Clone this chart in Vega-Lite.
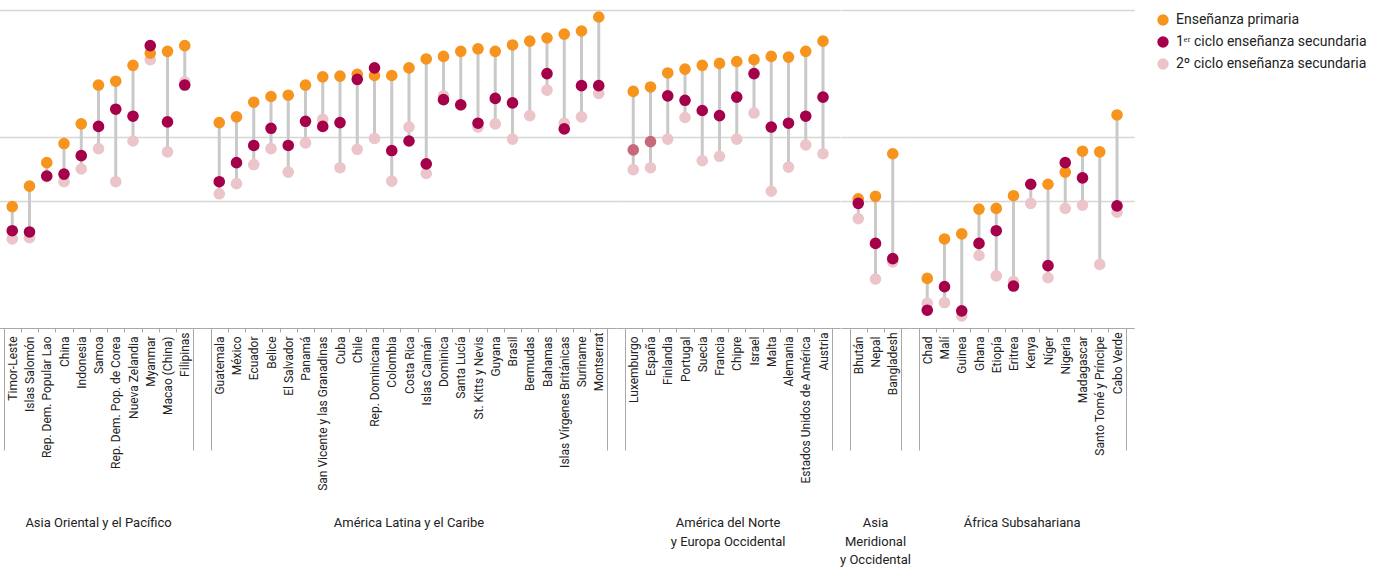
{
  "$schema": "https://vega.github.io/schema/vega-lite/v6.json",
  "padding": {"left": -11, "top": 10, "right": 5, "bottom": 0},
  "background": "white",
  "bounds": "flush",
  "data": {"values": [
    {"region": "Asia Oriental y el Pacífico", "pais": "Timor-Leste", "primaria": 69.1, "ciclo1": 65.3, "ciclo2": 64.0},
    {"region": "Asia Oriental y el Pacífico", "pais": "Islas Salomón", "primaria": 72.3, "ciclo1": 65.1, "ciclo2": 64.2},
    {"region": "Asia Oriental y el Pacífico", "pais": "Rep. Dem. Popular Lao", "primaria": 76.0, "ciclo1": 73.9, "ciclo2": 73.8},
    {"region": "Asia Oriental y el Pacífico", "pais": "China", "primaria": 79.0, "ciclo1": 74.2, "ciclo2": 73.0},
    {"region": "Asia Oriental y el Pacífico", "pais": "Indonesia", "primaria": 82.1, "ciclo1": 77.1, "ciclo2": 75.0},
    {"region": "Asia Oriental y el Pacífico", "pais": "Samoa", "primaria": 88.2, "ciclo1": 81.7, "ciclo2": 78.2},
    {"region": "Asia Oriental y el Pacífico", "pais": "Rep. Dem. Pop. de Corea", "primaria": 88.8, "ciclo1": 84.4, "ciclo2": 73.0},
    {"region": "Asia Oriental y el Pacífico", "pais": "Nueva Zelandia", "primaria": 91.3, "ciclo1": 83.3, "ciclo2": 79.4},
    {"region": "Asia Oriental y el Pacífico", "pais": "Myanmar", "primaria": 93.2, "ciclo1": 94.4, "ciclo2": 92.2},
    {"region": "Asia Oriental y el Pacífico", "pais": "Macao (China)", "primaria": 93.5, "ciclo1": 82.4, "ciclo2": 77.7},
    {"region": "Asia Oriental y el Pacífico", "pais": "Filipinas", "primaria": 94.4, "ciclo1": 88.2, "ciclo2": 88.7},
    {"region": "América Latina y el Caribe", "pais": "Guatemala", "primaria": 82.3, "ciclo1": 73.0, "ciclo2": 71.1},
    {"region": "América Latina y el Caribe", "pais": "México", "primaria": 83.2, "ciclo1": 76.0, "ciclo2": 72.7},
    {"region": "América Latina y el Caribe", "pais": "Ecuador", "primaria": 85.5, "ciclo1": 78.7, "ciclo2": 75.7},
    {"region": "América Latina y el Caribe", "pais": "Belice", "primaria": 86.4, "ciclo1": 81.4, "ciclo2": 78.2},
    {"region": "América Latina y el Caribe", "pais": "El Salvador", "primaria": 86.6, "ciclo1": 78.7, "ciclo2": 74.5},
    {"region": "América Latina y el Caribe", "pais": "Panamá", "primaria": 88.2, "ciclo1": 82.5, "ciclo2": 79.1},
    {"region": "América Latina y el Caribe", "pais": "San Vicente y las Granadinas", "primaria": 89.5, "ciclo1": 81.7, "ciclo2": 82.8},
    {"region": "América Latina y el Caribe", "pais": "Cuba", "primaria": 89.6, "ciclo1": 82.3, "ciclo2": 75.2},
    {"region": "América Latina y el Caribe", "pais": "Chile", "primaria": 89.9, "ciclo1": 89.1, "ciclo2": 78.1},
    {"region": "América Latina y el Caribe", "pais": "Rep. Dominicana", "primaria": 89.7, "ciclo1": 90.9, "ciclo2": 79.8},
    {"region": "América Latina y el Caribe", "pais": "Colombia", "primaria": 89.7, "ciclo1": 77.9, "ciclo2": 73.1},
    {"region": "América Latina y el Caribe", "pais": "Costa Rica", "primaria": 90.9, "ciclo1": 79.4, "ciclo2": 81.6},
    {"region": "América Latina y el Caribe", "pais": "Islas Caimán", "primaria": 92.3, "ciclo1": 75.8, "ciclo2": 74.3},
    {"region": "América Latina y el Caribe", "pais": "Dominica", "primaria": 92.7, "ciclo1": 85.9, "ciclo2": 86.5},
    {"region": "América Latina y el Caribe", "pais": "Santa Lucía", "primaria": 93.5, "ciclo1": 85.1, "ciclo2": 85.0},
    {"region": "América Latina y el Caribe", "pais": "St. Kitts y Nevis", "primaria": 93.9, "ciclo1": 82.2, "ciclo2": 81.6},
    {"region": "América Latina y el Caribe", "pais": "Guyana", "primaria": 93.5, "ciclo1": 86.1, "ciclo2": 82.1},
    {"region": "América Latina y el Caribe", "pais": "Brasil", "primaria": 94.5, "ciclo1": 85.4, "ciclo2": 79.7},
    {"region": "América Latina y el Caribe", "pais": "Bermudas", "primaria": 95.1, "ciclo1": null, "ciclo2": 83.4},
    {"region": "América Latina y el Caribe", "pais": "Bahamas", "primaria": 95.6, "ciclo1": 90.0, "ciclo2": 87.4},
    {"region": "América Latina y el Caribe", "pais": "Islas Vírgenes Británicas", "primaria": 96.2, "ciclo1": 81.3, "ciclo2": 82.2},
    {"region": "América Latina y el Caribe", "pais": "Suriname", "primaria": 96.7, "ciclo1": 88.1, "ciclo2": 83.2},
    {"region": "América Latina y el Caribe", "pais": "Montserrat", "primaria": 98.9, "ciclo1": 88.1, "ciclo2": 86.9},
    {"region": "América del Norte y Europa Occidental", "pais": "Luxemburgo", "primaria": 87.2, "ciclo1": 78.0, "ciclo2": 74.9, "ciclo1_estimado": true},
    {"region": "América del Norte y Europa Occidental", "pais": "España", "primaria": 87.9, "ciclo1": 79.3, "ciclo2": 75.2, "ciclo1_estimado": true},
    {"region": "América del Norte y Europa Occidental", "pais": "Finlandia", "primaria": 90.1, "ciclo1": 86.5, "ciclo2": 79.7},
    {"region": "América del Norte y Europa Occidental", "pais": "Portugal", "primaria": 90.7, "ciclo1": 85.8, "ciclo2": 83.1},
    {"region": "América del Norte y Europa Occidental", "pais": "Suecia", "primaria": 91.3, "ciclo1": 84.2, "ciclo2": 76.3},
    {"region": "América del Norte y Europa Occidental", "pais": "Francia", "primaria": 91.6, "ciclo1": 83.4, "ciclo2": 77.0},
    {"region": "América del Norte y Europa Occidental", "pais": "Chipre", "primaria": 91.9, "ciclo1": 86.3, "ciclo2": 79.7},
    {"region": "América del Norte y Europa Occidental", "pais": "Israel", "primaria": 92.2, "ciclo1": 90.0, "ciclo2": 83.8},
    {"region": "América del Norte y Europa Occidental", "pais": "Malta", "primaria": 92.7, "ciclo1": 81.6, "ciclo2": 71.5},
    {"region": "América del Norte y Europa Occidental", "pais": "Alemania", "primaria": 92.6, "ciclo1": 82.2, "ciclo2": 75.3},
    {"region": "América del Norte y Europa Occidental", "pais": "Estados Unidos de América", "primaria": 93.5, "ciclo1": 83.3, "ciclo2": 78.8},
    {"region": "América del Norte y Europa Occidental", "pais": "Austria", "primaria": 95.1, "ciclo1": 86.3, "ciclo2": 77.4},
    {"region": "Asia Meridional y Occidental", "pais": "Bhután", "primaria": 70.3, "ciclo1": 69.6, "ciclo2": 67.2},
    {"region": "Asia Meridional y Occidental", "pais": "Nepal", "primaria": 70.7, "ciclo1": 63.3, "ciclo2": 57.7},
    {"region": "Asia Meridional y Occidental", "pais": "Bangladesh", "primaria": 77.4, "ciclo1": 60.9, "ciclo2": 60.4},
    {"region": "África Subsahariana", "pais": "Chad", "primaria": 57.8, "ciclo1": 52.8, "ciclo2": 53.9},
    {"region": "África Subsahariana", "pais": "Malí", "primaria": 64.0, "ciclo1": 56.5, "ciclo2": 54.0},
    {"region": "África Subsahariana", "pais": "Guinea", "primaria": 64.8, "ciclo1": 52.7, "ciclo2": 51.9},
    {"region": "África Subsahariana", "pais": "Ghana", "primaria": 68.7, "ciclo1": 63.3, "ciclo2": 61.4},
    {"region": "África Subsahariana", "pais": "Etiopía", "primaria": 68.8, "ciclo1": 65.3, "ciclo2": 58.2},
    {"region": "África Subsahariana", "pais": "Eritrea", "primaria": 70.8, "ciclo1": 56.6, "ciclo2": 57.3},
    {"region": "África Subsahariana", "pais": "Kenya", "primaria": null, "ciclo1": 72.6, "ciclo2": 69.6},
    {"region": "África Subsahariana", "pais": "Níger", "primaria": 72.6, "ciclo1": 59.8, "ciclo2": 57.9},
    {"region": "África Subsahariana", "pais": "Nigeria", "primaria": 74.5, "ciclo1": 76.0, "ciclo2": 68.8},
    {"region": "África Subsahariana", "pais": "Madagascar", "primaria": 77.8, "ciclo1": 73.6, "ciclo2": 69.3},
    {"region": "África Subsahariana", "pais": "Santo Tomé y Príncipe", "primaria": 77.7, "ciclo1": null, "ciclo2": 60.0},
    {"region": "África Subsahariana", "pais": "Cabo Verde", "primaria": 83.5, "ciclo1": 69.2, "ciclo2": 68.2}
  ]},
  "transform": [
    {"fold": ["ciclo2", "primaria", "ciclo1"], "as": ["nivel", "valor"]},
    {"filter": "isValid(datum.valor)"}
  ],
  "facet": {
    "column": {
      "field": "region",
      "type": "nominal",
      "sort": ["Asia Oriental y el Pacífico", "América Latina y el Caribe", "América del Norte y Europa Occidental", "Asia Meridional y Occidental", "África Subsahariana"],
      "header": {
        "title": null,
        "labelOrient": "bottom",
        "labelFont": "Roboto",
        "labelFontSize": 13,
        "labelColor": "#222",
        "labelPadding": 189,
        "labelBaseline": "top",
        "labelLineHeight": 18.5,
        "labelExpr": "datum.value == 'América del Norte y Europa Occidental' ? ['América del Norte', 'y Europa Occidental'] : datum.value == 'Asia Meridional y Occidental' ? ['Asia', 'Meridional', 'y Occidental'] : datum.value"
      }
    }
  },
  "spacing": 0,
  "resolve": {"scale": {"x": "independent"}},
  "spec": {
    "width": {"step": 17.25},
    "height": 318,
    "encoding": {
      "x": {
        "field": "pais",
        "type": "nominal",
        "sort": ["Timor-Leste", "Islas Salomón", "Rep. Dem. Popular Lao", "China", "Indonesia", "Samoa", "Rep. Dem. Pop. de Corea", "Nueva Zelandia", "Myanmar", "Macao (China)", "Filipinas", "Guatemala", "México", "Ecuador", "Belice", "El Salvador", "Panamá", "San Vicente y las Granadinas", "Cuba", "Chile", "Rep. Dominicana", "Colombia", "Costa Rica", "Islas Caimán", "Dominica", "Santa Lucía", "St. Kitts y Nevis", "Guyana", "Brasil", "Bermudas", "Bahamas", "Islas Vírgenes Británicas", "Suriname", "Montserrat", "Luxemburgo", "España", "Finlandia", "Portugal", "Suecia", "Francia", "Chipre", "Israel", "Malta", "Alemania", "Estados Unidos de América", "Austria", "Bhután", "Nepal", "Bangladesh", "Chad", "Malí", "Guinea", "Ghana", "Etiopía", "Eritrea", "Kenya", "Níger", "Nigeria", "Madagascar", "Santo Tomé y Príncipe", "Cabo Verde"],
        "scale": {"type": "band", "paddingInner": 0, "paddingOuter": 0.5},
        "axis": {
          "title": null,
          "labelAngle": 270,
          "labelFont": "Roboto",
          "labelFontSize": 12,
          "labelColor": "#222",
          "labelPadding": {"condition": {"test": "datum.index == 1", "value": -118}, "value": 4},
          "labelOverlap": false,
          "tickBand": "extent",
          "tickColor": "#a8a8a8",
          "tickWidth": 1,
          "tickSize": {"condition": {"test": "datum.extra || datum.index == 1", "value": 122}, "value": 4},
          "domainColor": "#a8a8a8",
          "domainWidth": 1,
          "grid": false
        }
      }
    },
    "layer": [
      {
        "transform": [
          {"aggregate": [{"op": "min", "field": "valor", "as": "minimo"}, {"op": "max", "field": "valor", "as": "maximo"}], "groupby": ["region", "pais"]}
        ],
        "mark": {"type": "rule", "color": "#c9c9c9", "strokeWidth": 3},
        "encoding": {
          "y": {
            "field": "minimo",
            "type": "quantitative",
            "scale": {"domain": [50, 100], "nice": false, "zero": false},
            "axis": {"title": null, "labels": false, "ticks": false, "domain": false, "values": [70, 80, 100], "grid": true, "gridColor": "#d6d6d6", "gridWidth": 1.5, "minExtent": 0, "maxExtent": 0}
          },
          "y2": {"field": "maximo"}
        }
      },
      {
        "mark": {"type": "circle", "size": 135, "opacity": 1},
        "encoding": {
          "y": {"field": "valor", "type": "quantitative"},
          "color": {
            "condition": {"test": "datum.nivel == 'ciclo1' && datum.ciclo1_estimado", "value": "#c66a7b"},
            "field": "nivel",
            "type": "nominal",
            "scale": {"domain": ["primaria", "ciclo1", "ciclo2"], "range": ["#f7941e", "#a5004a", "#ebc5c9"]},
            "legend": {
              "title": null,
              "orient": "right",
              "offset": 18,
              "padding": 3,
              "symbolType": "circle",
              "symbolSize": 130,
              "symbolOpacity": 1,
              "labelFont": "Roboto",
              "labelFontSize": 14,
              "labelColor": "#222",
              "labelLimit": 0,
              "labelOffset": 6,
              "rowPadding": 8,
              "labelExpr": "datum.value == 'primaria' ? 'Enseñanza primaria' : datum.value == 'ciclo1' ? '1ᵉʳ ciclo enseñanza secundaria' : '2º ciclo enseñanza secundaria'"
            }
          }
        }
      }
    ]
  },
  "config": {"view": {"stroke": null}}
}
